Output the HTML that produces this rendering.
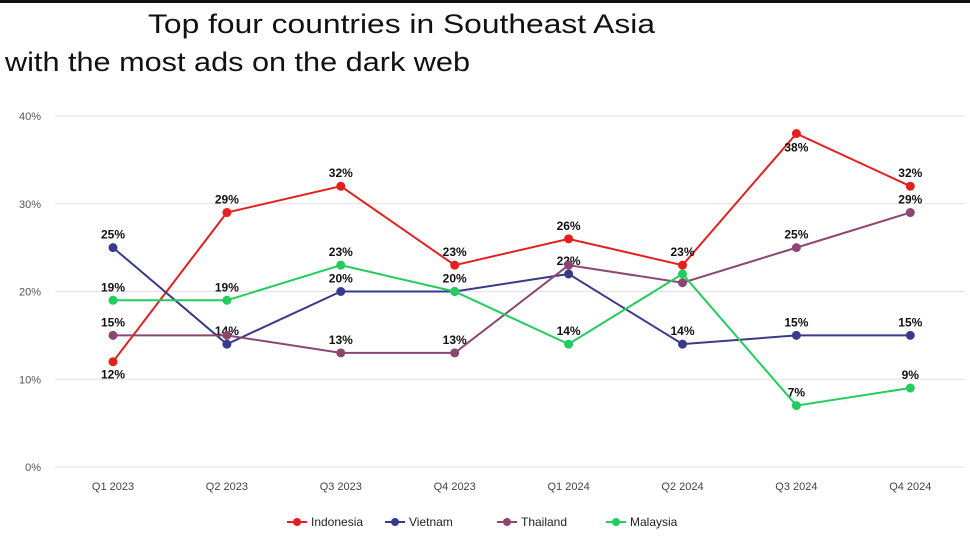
<!DOCTYPE html>
<html><head><meta charset="utf-8"><style>
body{margin:0;background:#fff;width:970px;height:544px;overflow:hidden;font-family:"Liberation Sans",sans-serif}
#bar{position:absolute;left:0;top:0;width:970px;height:3px;background:#111}
</style></head><body>
<div id="bar"></div>
<svg id="c" width="970" height="544" style="position:absolute;left:0;top:0">
<text x="148" y="33" font-size="27" fill="#111" textLength="507" lengthAdjust="spacingAndGlyphs" font-family="Liberation Sans">Top four countries in Southeast Asia</text>
<text x="5" y="71" font-size="27" fill="#111" textLength="465" lengthAdjust="spacingAndGlyphs" font-family="Liberation Sans">with the most ads on the dark web</text>
</svg>
<script>
const categories=["Q1 2023","Q2 2023","Q3 2023","Q4 2023","Q1 2024","Q2 2024","Q3 2024","Q4 2024"];
const indonesia=[12,29,32,23,26,23,38,32];
const vietnam=[25,14,20,20,22,14,15,15];
const thailand=[15,15,13,13,23,21,25,29];
const malaysia=[19,19,23,20,14,22,7,9];
const yTicks=[0,10,20,30,40];
const seriesNames=["Indonesia","Vietnam","Thailand","Malaysia"];
const seriesData=[indonesia,vietnam,thailand,malaysia];
const colors=["#e3201e","#3a3a8c","#8c4770","#22cc5e"];
const NS="http://www.w3.org/2000/svg",svg=document.getElementById('c');
const x=i=>113+i*113.9, y=v=>467-v*8.775;
function mk(t,a,p){const e=document.createElementNS(NS,t);for(const k in a)e.setAttribute(k,a[k]);(p||svg).appendChild(e);return e;}
yTicks.forEach(v=>{
 const l=mk('line',{x1:55,x2:965,y1:y(v),y2:y(v),stroke:'#e2e2e2','stroke-width':1});
 
 
 const t=mk('text',{x:41,y:y(v)+4,'text-anchor':'end','font-size':11,fill:'#555'});t.textContent=v+'%';
 
 
});
categories.forEach((c,i)=>{const t=mk('text',{x:x(i),y:490,'text-anchor':'middle','font-size':11,fill:'#444'});t.textContent=c;
 
 });
const dy={"0-0":17,"0-6":18};
const hide={"2-1":1,"2-4":1,"2-5":1,"3-5":1,"3-3":1};
seriesData.forEach((d,s)=>{
 const g=mk('g',{});
 
 
 const p=mk('polyline',{points:d.map((v,i)=>x(i)+','+y(v)).join(' '),fill:'none',stroke:colors[s],'stroke-width':2},g);
 
 
 d.forEach((v,i)=>{
  const c=mk('circle',{cx:x(i),cy:y(v),r:4.5,fill:colors[s]},g);
  
  
  const k=s+'-'+i;
  if(hide[k])return;
  const t=mk('text',{x:x(i),y:y(v)-(k in dy?-dy[k]:9),'text-anchor':'middle','font-size':12,'font-weight':'bold',fill:'#111'},g);
  t.textContent=v+'%';
  
  
 });
});
const lx=[297,395,507,616];
seriesNames.forEach((n,s)=>{
 const g=mk('g',{});
 
 
 mk('line',{x1:lx[s]-10,x2:lx[s]+10,y1:522,y2:522,stroke:colors[s],'stroke-width':2},g);
 mk('circle',{cx:lx[s],cy:522,r:4,fill:colors[s]},g);
 const t=mk('text',{x:lx[s]+14,y:526,'font-size':12,fill:'#222'},g);t.textContent=n;
});
</script>
</body></html>
